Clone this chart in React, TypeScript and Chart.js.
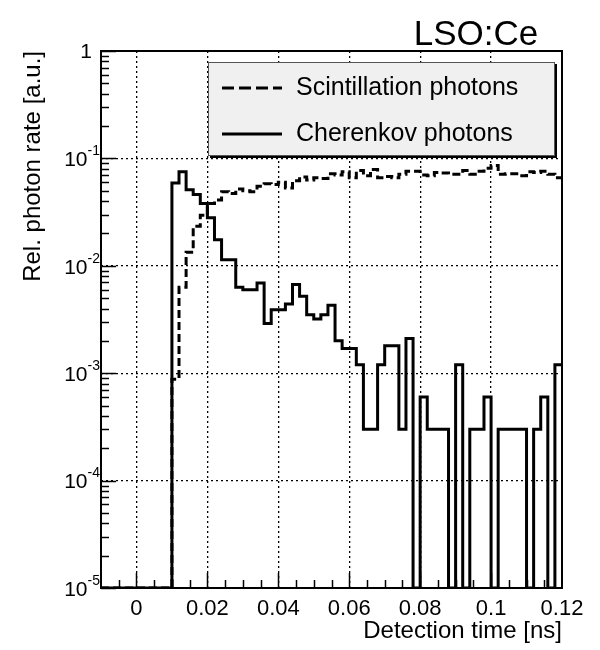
import React, { useEffect, useRef } from 'react';
import { Chart, registerables } from 'chart.js';

Chart.register(...registerables);

const FONT = '"Liberation Sans", Arial, Helvetica, sans-serif';

// Histogram binning (ns)
const BIN_START = -0.01;
const BIN_WIDTH = 0.002;
const X_MIN = -0.01;
const X_MAX = 0.12;
const Y_MIN = 1e-5;
const Y_MAX = 1;

// Relative photon rate per bin, bins start at -0.010 ns, width 0.002 ns (0 = empty bin)
const cherenkovRate = [
  0, 0, 0, 0, 0, 0, 0, 0, 0, 0,
  0.059, 0.075, 0.051, 0.046, 0.038, 0.028, 0.0175, 0.0114, 0.0114, 0.0063,
  0.006, 0.006, 0.0069, 0.0029, 0.0039, 0.0039, 0.0044, 0.0067, 0.0052, 0.0035,
  0.0032, 0.0035, 0.0043, 0.002, 0.0017, 0.0017, 0.0012, 0.0003, 0.0003, 0.0012,
  0.0018, 0.0018, 0.0003, 0.0021, 0, 0.0006, 0.0003, 0.0003, 0.0003, 0,
  0.0012, 0, 0.0003, 0.0003, 0.0006, 0, 0.0003, 0.0003, 0.0003, 0.0003,
  0, 0.0003, 0.0006, 0, 0.0012,
];

const scintillationRate = [
  0, 0, 0, 0, 0, 0, 0, 0, 0, 0,
  0.00088, 0.0063, 0.0134, 0.0233, 0.0295, 0.038, 0.041, 0.049, 0.047, 0.052,
  0.05, 0.049, 0.055, 0.058, 0.057, 0.06, 0.053, 0.062, 0.067, 0.063,
  0.066, 0.065, 0.072, 0.07, 0.075, 0.066, 0.077, 0.069, 0.079, 0.066,
  0.068, 0.066, 0.071, 0.076, 0.076, 0.07, 0.069, 0.074, 0.073, 0.071,
  0.071, 0.077, 0.071, 0.076, 0.081, 0.086, 0.071, 0.072, 0.072, 0.069,
  0.075, 0.074, 0.076, 0.071, 0.066,
];

const xTickValues = [0, 0.02, 0.04, 0.06, 0.08, 0.1, 0.12];
const xMinorTickValues = [
  -0.005, 0, 0.005, 0.01, 0.015, 0.02, 0.025, 0.03, 0.035, 0.04, 0.045, 0.05, 0.055,
  0.06, 0.065, 0.07, 0.075, 0.08, 0.085, 0.09, 0.095, 0.1, 0.105, 0.11, 0.115,
];
const yDecadeExponents = [-5, -4, -3, -2, -1, 0];
const yMinorMultipliers = [2, 3, 4, 5, 6, 7, 8, 9];

const titleText = 'LSO:Ce';
const xTitle = 'Detection time [ns]';
const yTitle = 'Rel. photon rate [a.u.]';
const legendLabels = ['Scintillation photons', 'Cherenkov photons'];

function toSteps(values: number[]) {
  const pts = values.map((v, i) => ({ x: BIN_START + i * BIN_WIDTH, y: v > 0 ? v : Y_MIN }));
  const last = values[values.length - 1];
  pts.push({ x: BIN_START + values.length * BIN_WIDTH, y: last > 0 ? last : Y_MIN });
  return pts;
}

const decorations = {
  id: 'decorations',
  afterDatasetsDraw(chart: any) {
    const { ctx, chartArea, scales } = chart;
    const { left, right, top, bottom } = chartArea;
    const xs = scales.x;
    const ys = scales.y;
    ctx.save();
    ctx.strokeStyle = '#000';
    ctx.setLineDash([]);
    // x ticks (inside)
    ctx.lineWidth = 1.5;
    xMinorTickValues.forEach((v) => {
      const px = Math.round(xs.getPixelForValue(v)) + 0.5;
      const major = xTickValues.some((t) => Math.abs(t - v) < 1e-9);
      const len = major ? 15 : 8;
      ctx.beginPath();
      ctx.moveTo(px, bottom);
      ctx.lineTo(px, bottom - len);
      ctx.stroke();
    });
    // y ticks (inside)
    yDecadeExponents.forEach((e) => {
      const py = Math.round(ys.getPixelForValue(Math.pow(10, e))) + 0.5;
      ctx.beginPath();
      ctx.moveTo(left, py);
      ctx.lineTo(left + 15, py);
      ctx.stroke();
      if (e < 0) {
        yMinorMultipliers.forEach((m) => {
          const pm = Math.round(ys.getPixelForValue(m * Math.pow(10, e))) + 0.5;
          ctx.beginPath();
          ctx.moveTo(left, pm);
          ctx.lineTo(left + 8, pm);
          ctx.stroke();
        });
      }
    });
    // frame
    ctx.lineWidth = 2;
    ctx.strokeRect(left, top, right - left, bottom - top);
    ctx.restore();
  },
  afterDraw(chart: any) {
    const { ctx, scales } = chart;
    const ys = scales.y;
    ctx.save();
    ctx.fillStyle = '#000';
    // y tick labels with superscripts
    yDecadeExponents.forEach((e) => {
      const py = ys.getPixelForValue(Math.pow(10, e));
      ctx.textBaseline = 'middle';
      if (e === 0) {
        ctx.font = `21px ${FONT}`;
        ctx.textAlign = 'right';
        ctx.fillText('1', 92, py + 1);
      } else {
        const sup = String(e);
        ctx.font = `14px ${FONT}`;
        const supW = ctx.measureText(sup).width;
        ctx.textAlign = 'right';
        ctx.fillText(sup, 100, py - 7);
        ctx.font = `21px ${FONT}`;
        ctx.fillText('10', 100 - supW, py + 2);
      }
    });
    // title
    ctx.font = `35px ${FONT}`;
    ctx.textAlign = 'center';
    ctx.textBaseline = 'alphabetic';
    ctx.fillText(titleText, 476, 45);
    // legend
    const bx = 208, by = 62, bw = 347, bh = 94;
    ctx.fillStyle = '#000';
    ctx.fillRect(bx + 2, by + 2, bw, bh);
    ctx.fillStyle = '#f0f0f0';
    ctx.fillRect(bx, by, bw, bh);
    ctx.strokeStyle = '#555';
    ctx.lineWidth = 1;
    ctx.strokeRect(bx + 0.5, by + 0.5, bw - 1, bh - 1);
    const rows = [88, 134];
    ctx.strokeStyle = '#000';
    ctx.lineWidth = 3;
    rows.forEach((ry, i) => {
      ctx.setLineDash(i === 0 ? [12, 5] : []);
      ctx.beginPath();
      ctx.moveTo(222, ry);
      ctx.lineTo(282, ry);
      ctx.stroke();
      ctx.setLineDash([]);
      ctx.fillStyle = '#000';
      ctx.font = `25px ${FONT}`;
      ctx.textAlign = 'left';
      ctx.textBaseline = 'middle';
      ctx.fillText(legendLabels[i], 296, ry);
    });
    ctx.restore();
  },
};

export default function App() {
  const canvasRef = useRef<HTMLCanvasElement | null>(null);

  useEffect(() => {
    const canvas = canvasRef.current;
    if (!canvas) return;
    const chart = new Chart(canvas, {
      type: 'line',
      data: {
        datasets: [
          {
            label: legendLabels[0],
            data: toSteps(scintillationRate),
            stepped: 'before',
            borderColor: '#000',
            borderWidth: 3,
            borderDash: [8, 4],
            pointRadius: 0,
            fill: false,
            borderJoinStyle: 'miter',
          },
          {
            label: legendLabels[1],
            data: toSteps(cherenkovRate),
            stepped: 'before',
            borderColor: '#000',
            borderWidth: 3,
            pointRadius: 0,
            fill: false,
            borderJoinStyle: 'miter',
          },
        ],
      },
      options: {
        animation: false,
        responsive: false,
        devicePixelRatio: 1,
        parsing: false,
        layout: { padding: { top: 51, right: 38, bottom: 0, left: 0 } },
        plugins: {
          legend: { display: false },
          tooltip: { enabled: false },
          title: { display: false },
        },
        scales: {
          x: {
            type: 'linear',
            min: X_MIN,
            max: X_MAX,
            afterBuildTicks: (s: any) => {
              s.ticks = xTickValues.map((v) => ({ value: v }));
            },
            afterFit: (s: any) => {
              s.height = 62;
            },
            grid: { color: '#000', lineWidth: 1.3, drawTicks: false },
            border: { display: false, dash: [2, 3] },
            ticks: {
              color: '#000',
              font: { family: FONT, size: 22 },
              padding: 8,
              maxRotation: 0,
              autoSkip: false,
              callback: (v: any) => String(Number(Number(v).toFixed(3))),
            },
            title: {
              display: true,
              text: xTitle,
              align: 'end',
              color: '#000',
              font: { family: FONT, size: 24 },
              padding: { top: 0, bottom: 4 },
            },
          },
          y: {
            type: 'logarithmic',
            min: Y_MIN,
            max: Y_MAX,
            afterBuildTicks: (s: any) => {
              s.ticks = yDecadeExponents.map((e) => ({ value: Math.pow(10, e) }));
            },
            afterFit: (s: any) => {
              s.width = 101;
            },
            grid: { color: '#000', lineWidth: 1.3, drawTicks: false },
            border: { display: false, dash: [2, 3] },
            ticks: { display: false },
            title: {
              display: true,
              text: yTitle,
              align: 'end',
              color: '#000',
              font: { family: FONT, size: 24 },
              padding: { top: 19, bottom: 0 },
            },
          },
        },
      },
      plugins: [decorations],
    } as any);
    return () => chart.destroy();
  }, []);

  return (
    <div style={{ position: 'absolute', left: 0, top: 0, width: 600, height: 650, background: '#fff' }}>
      <canvas ref={canvasRef} width={600} height={650} style={{ display: 'block' }} />
    </div>
  );
}
